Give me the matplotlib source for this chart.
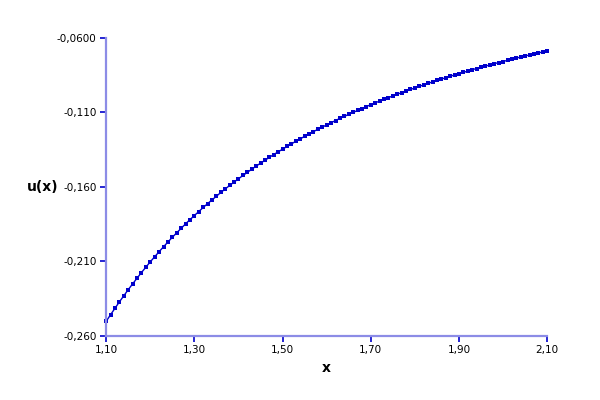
import matplotlib
matplotlib.use("Agg")
import matplotlib.pyplot as plt

x = [1.10, 1.11, 1.12, 1.13, 1.14, 1.15, 1.16, 1.17, 1.18, 1.19,
     1.20, 1.21, 1.22, 1.23, 1.24, 1.25, 1.26, 1.27, 1.28, 1.29,
     1.30, 1.31, 1.32, 1.33, 1.34, 1.35, 1.36, 1.37, 1.38, 1.39,
     1.40, 1.41, 1.42, 1.43, 1.44, 1.45, 1.46, 1.47, 1.48, 1.49,
     1.50, 1.51, 1.52, 1.53, 1.54, 1.55, 1.56, 1.57, 1.58, 1.59,
     1.60, 1.61, 1.62, 1.63, 1.64, 1.65, 1.66, 1.67, 1.68, 1.69,
     1.70, 1.71, 1.72, 1.73, 1.74, 1.75, 1.76, 1.77, 1.78, 1.79,
     1.80, 1.81, 1.82, 1.83, 1.84, 1.85, 1.86, 1.87, 1.88, 1.89,
     1.90, 1.91, 1.92, 1.93, 1.94, 1.95, 1.96, 1.97, 1.98, 1.99,
     2.00, 2.01, 2.02, 2.03, 2.04, 2.05, 2.06, 2.07, 2.08, 2.09, 2.10]

u = [-0.2504, -0.2459, -0.2416, -0.2373, -0.2332, -0.2291, -0.2252, -0.2214, -0.2176, -0.2140,
     -0.2104, -0.2070, -0.2036, -0.2003, -0.1971, -0.1939, -0.1909, -0.1879, -0.1849, -0.1821,
     -0.1793, -0.1766, -0.1739, -0.1713, -0.1688, -0.1663, -0.1638, -0.1614, -0.1591, -0.1568,
     -0.1546, -0.1524, -0.1503, -0.1482, -0.1461, -0.1441, -0.1422, -0.1402, -0.1383, -0.1365,
     -0.1347, -0.1329, -0.1312, -0.1294, -0.1278, -0.1261, -0.1245, -0.1229, -0.1214, -0.1199,
     -0.1184, -0.1169, -0.1155, -0.1140, -0.1127, -0.1113, -0.1100, -0.1087, -0.1074, -0.1061,
     -0.1048, -0.1036, -0.1024, -0.1012, -0.1001, -0.0989, -0.0978, -0.0967, -0.0956, -0.0946,
     -0.0935, -0.0925, -0.0915, -0.0905, -0.0895, -0.0885, -0.0876, -0.0867, -0.0857, -0.0848,
     -0.0839, -0.0831, -0.0822, -0.0813, -0.0805, -0.0797, -0.0789, -0.0781, -0.0773, -0.0765,
     -0.0758, -0.0750, -0.0743, -0.0735, -0.0728, -0.0721, -0.0714, -0.0707, -0.0700, -0.0694, -0.0687]

xticks = [1.10, 1.30, 1.50, 1.70, 1.90, 2.10]
xlabels = ["1,10", "1,30", "1,50", "1,70", "1,90", "2,10"]
yticks = [-0.26, -0.21, -0.16, -0.11, -0.06]
ylabels = ["-0,260", "-0,210", "-0,160", "-0,110", "-0,0600"]

AXIS = "#8c8ce6"
LINE = "#0000cc"

fig = plt.figure(figsize=(6, 4), dpi=100)
ax = fig.add_axes([0.177, 0.161, 0.735, 0.744])

ax.plot(x, u, color=LINE, linewidth=1.0, marker="s", markersize=2.3,
        markeredgewidth=0, clip_on=False)

ax.set_xlim(1.10, 2.10)
ax.set_ylim(-0.26, -0.06)
ax.set_xticks(xticks)
ax.set_xticklabels(xlabels, fontsize=7.5)
ax.set_yticks(yticks)
ax.set_yticklabels(ylabels, fontsize=7.5)

for side in ("top", "right"):
    ax.spines[side].set_visible(False)
for side in ("left", "bottom"):
    ax.spines[side].set_color(AXIS)
    ax.spines[side].set_linewidth(1.6)
ax.tick_params(direction="out", length=4, width=1.2, color=LINE, pad=3)

ax.set_xlabel("x", fontsize=10, fontweight="bold", labelpad=4)
ax.set_ylabel("u(x)", fontsize=10, fontweight="bold", rotation=0,
              labelpad=10, va="center")

plt.savefig("out.png", facecolor="white")
